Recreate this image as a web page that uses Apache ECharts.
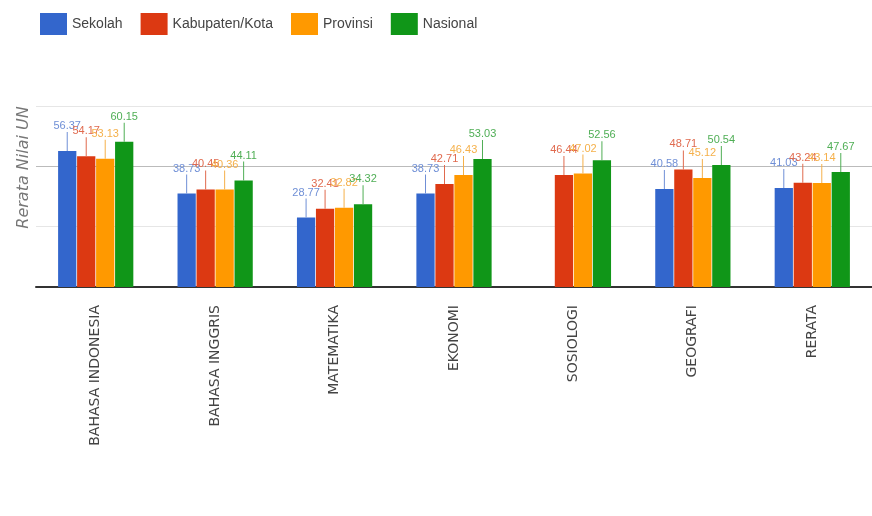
<!DOCTYPE html>
<html>
<head>
<meta charset="utf-8">
<script src="https://cdn.jsdelivr.net/npm/echarts@6/dist/echarts.min.js"></script>
<style>html,body{margin:0;padding:0;background:#fff}#c{width:872px;height:516px}</style>
</head>
<body>
<div id="c"></div>
<script>
const categories = ['BAHASA INDONESIA','BAHASA INGGRIS','MATEMATIKA','EKONOMI','SOSIOLOGI','GEOGRAFI','RERATA'];
const seriesNames = ['Sekolah','Kabupaten/Kota','Provinsi','Nasional'];
const sekolah  = [56.37, 38.73, 28.77, 38.73, null, 40.58, 41.03];
const kabupaten = [54.17, 40.45, 32.41, 42.71, 46.44, 48.71, 43.24];
const provinsi = [53.13, 40.36, 32.82, 46.43, 47.02, 45.12, 43.14];
const nasional = [60.15, 44.11, 34.32, 53.03, 52.56, 50.54, 47.67];
const yTicks = [0, 25, 50, 75];

const colors = ['#3366cc','#dc3912','#ff9900','#109618'];
const labelColors = ['#6f8fd6','#e06a4e','#f5b04a','#4fae55'];
const dataSets = [sekolah, kabupaten, provinsi, nasional];

const chart = echarts.init(document.getElementById('c'), null, {renderer:'canvas'});
const series = seriesNames.map((name, i) => ({
  name: name,
  type: 'bar',
  data: dataSets[i].map(v => v === null ? '-' : v),
  barGap: '4%',
  barCategoryGap: '37%',
  itemStyle: {color: colors[i]},
  label: {
    show: true,
    position: 'top',
    distance: 0,
    formatter: p => '{v|' + p.value + '}\n{s|}',
    rich: {
      v: {fontFamily: 'Liberation Sans, sans-serif', fontSize: 11, color: labelColors[i], lineHeight: 12, align: 'center'},
      s: {width: 1, height: 19, backgroundColor: labelColors[i], align: 'center'}
    }
  }
}));

chart.setOption({
  animation: false,
  color: colors,
  legend: {
    left: 35, top: 8,
    itemWidth: 27, itemHeight: 22, itemGap: 18,
    icon: 'rect',
    textStyle: {fontFamily: 'Liberation Sans, sans-serif', fontSize: 14, color: '#444'},
    data: seriesNames
  },
  grid: {left: 36, right: -8, top: 106, bottom: 229},
  xAxis: {
    type: 'category',
    data: categories,
    axisLine: {lineStyle: {color: '#333', width: 2}},
    axisTick: {show: false},
    axisLabel: {rotate: 90, margin: 18, color: '#444', fontFamily: 'DejaVu Sans, sans-serif', fontSize: 14}
  },
  yAxis: {
    type: 'value',
    min: yTicks[0], max: yTicks[yTicks.length-1], interval: 25,
    name: 'Rerata Nilai UN',
    nameLocation: 'middle',
    nameGap: 4,
    nameTextStyle: {fontStyle: 'italic', color: '#777', fontSize: 16, fontFamily: 'DejaVu Sans, sans-serif', padding: [0, 0, 0, 58]},
    axisLabel: {show: false},
    axisLine: {show: false},
    axisTick: {show: false},
    splitLine: {lineStyle: {color: ['#ccc','#e6e6e6','#bbb','#e6e6e6'], width: 1}}
  },
  series: series
});
</script>
</body>
</html>
